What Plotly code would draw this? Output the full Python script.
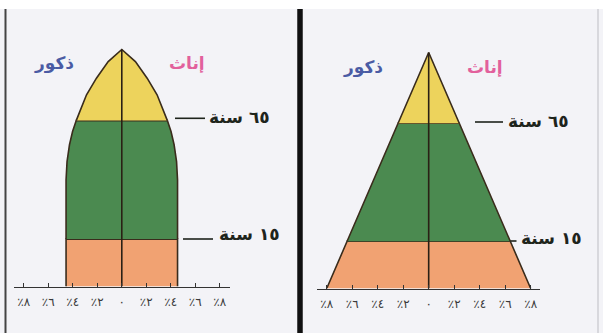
import plotly.graph_objects as go

# ---------------- data ----------------
# schematic vertical level of each outline point (0 = base, 100 = apex)
levels_left = [0, 20, 45, 52.7, 59.8, 65.4, 70, 73.8, 80.9, 87.9, 94.9, 100]
# half-width of the pyramid (% of population on each side)
halfwidth_left = [4.55, 4.55, 4.55, 4.47, 4.27, 4.02, 3.72, 3.43, 2.88, 2.07, 1.11, 0]

levels_right = [0, 20, 70, 100]
halfwidth_right = [8.0, 6.4, 2.4, 0]

band_edges = [0, 20, 70, 100]
band_colors = ["#F1A272", "#4B8A50", "#EDD35C"]
age_labels = ["١٥ سنة", "٦٥ سنة"]

tick_values = [-8, -6, -4, -2, 0, 2, 4, 6, 8]
tick_text = ["\u202b٨٪\u202c", "\u202b٦٪\u202c", "\u202b٤٪\u202c", "\u202b٢٪\u202c", "٠",
             "\u202b٢٪\u202c", "\u202b٤٪\u202c", "\u202b٦٪\u202c", "\u202b٨٪\u202c"]
male_label = "ذكور"
female_label = "إناث"

W, H = 603, 333
OUTLINE = "#3a2c1c"
ARFONT = "DejaVu Sans"


def px(x):
    return x / W


def py(y):
    return 1 - y / H


fig = go.Figure()


def add_pyramid(levels, widths, xa, ya):
    for lo, hi, col in zip(band_edges[:-1], band_edges[1:], band_colors):
        pts = [(h, w) for h, w in zip(levels, widths) if lo <= h <= hi]
        ys = [p[0] for p in pts] + [p[0] for p in reversed(pts)]
        xs = [p[1] for p in pts] + [-p[1] for p in reversed(pts)]
        fig.add_trace(go.Scatter(x=xs, y=ys, xaxis=xa, yaxis=ya, mode="lines",
                                 fill="toself", fillcolor=col,
                                 line=dict(color=OUTLINE, width=1.6),
                                 hoverinfo="skip", showlegend=False))
    fig.add_trace(go.Scatter(x=[0, 0], y=[levels[0], levels[-1]], xaxis=xa, yaxis=ya,
                             mode="lines", line=dict(color="#2a2015", width=1.6),
                             hoverinfo="skip", showlegend=False))


add_pyramid(levels_left, halfwidth_left, "x", "y")
add_pyramid(levels_right, halfwidth_right, "x2", "y2")

xaxis_common = dict(showgrid=False, zeroline=False, showline=True, linecolor="#333",
                    linewidth=1.5, ticks="inside", ticklen=4, tickwidth=1.2,
                    tickcolor="#333", tickvals=tick_values, ticktext=tick_text,
                    tickfont=dict(family=ARFONT, size=12, color="#3a3a3a"),
                    ticklabelstandoff=4, fixedrange=True)
yaxis_common = dict(visible=False, range=[0, 115], fixedrange=True)

shapes = []
# panel background and frame
shapes.append(dict(type="rect", xref="paper", yref="paper", x0=0, x1=1, y0=0, y1=py(9),
                   fillcolor="#f3f3f7", line=dict(width=0), layer="below"))
shapes.append(dict(type="line", xref="paper", yref="paper", x0=px(5.5), x1=px(5.5),
                   y0=0, y1=py(9), line=dict(color="#444", width=2)))
shapes.append(dict(type="line", xref="paper", yref="paper", x0=px(300), x1=px(300),
                   y0=0, y1=py(9), line=dict(color="#111", width=5.5)))
shapes.append(dict(type="line", xref="paper", yref="paper", x0=px(598), x1=px(598),
                   y0=0, y1=py(9), line=dict(color="#cfcfd4", width=1.5)))
# leader lines for age labels
for (x0, x1, y) in [(175, 205, 118.3), (183, 213, 239), (475, 503, 122), (510.5, 516.5, 241)]:
    shapes.append(dict(type="line", xref="paper", yref="paper", x0=px(x0), x1=px(x1),
                       y0=py(y), y1=py(y), line=dict(color="#1e241c", width=1.6)))

annotations = []
for (txt, cx, cy, col) in [(male_label, 53.5, 63, "#4a5ba4"), (female_label, 187.5, 63, "#e2609c"),
                           (male_label, 362.5, 67, "#4a5ba4"), (female_label, 485, 67, "#e2609c")]:
    annotations.append(dict(text="<b>" + txt + "</b>", x=px(cx), y=py(cy), xref="paper", yref="paper",
                            showarrow=False, xanchor="center", yanchor="middle",
                            font=dict(family=ARFONT, size=17, color=col)))
for (txt, lx, cy) in [(age_labels[1], 207, 117), (age_labels[0], 217, 234),
                      (age_labels[1], 506, 121), (age_labels[0], 519, 238)]:
    annotations.append(dict(text="<b>" + txt + "</b>", x=px(lx), y=py(cy), xref="paper", yref="paper",
                            showarrow=False, xanchor="left", yanchor="middle",
                            font=dict(family=ARFONT, size=17, color="#1e241c")))

fig.update_layout(
    width=W, height=H, margin=dict(l=0, r=0, t=0, b=0),
    paper_bgcolor="#ffffff", plot_bgcolor="rgba(0,0,0,0)",
    xaxis=dict(domain=[px(14), px(229.6)], range=[-8.8, 8.8], anchor="y", **xaxis_common),
    yaxis=dict(domain=[py(286.5), py(13.95)], anchor="x", **yaxis_common),
    xaxis2=dict(domain=[px(316.5), px(539.6)], range=[-8.8, 8.7], anchor="y2", **xaxis_common),
    yaxis2=dict(domain=[py(288.5), py(17.1)], anchor="x2", **yaxis_common),
    shapes=shapes, annotations=annotations, showlegend=False,
)

fig.write_html("out.html", config={"displayModeBar": False, "staticPlot": True},
               post_script="document.body.style.margin='0';document.body.style.overflow='hidden';")
